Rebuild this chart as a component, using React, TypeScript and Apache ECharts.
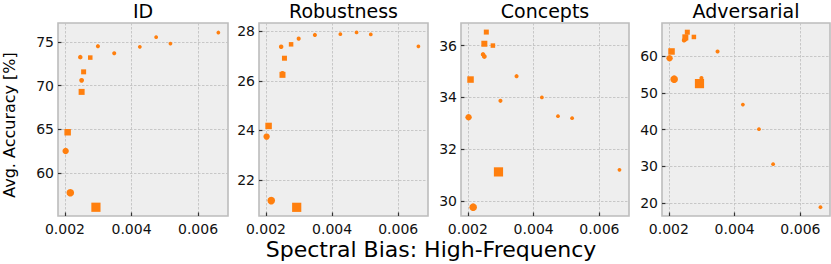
import { useEffect, useRef } from 'react';
import * as echarts from 'echarts';

const panelTitles = ['ID', 'Robustness', 'Concepts', 'Adversarial'];
const spectralBias = [0.00661, 0.00474, 0.00517, 0.00425, 0.00348, 0.00299, 0.00276, 0.00246, 0.00256, 0.0025, 0.0025, 0.00208, 0.00202, 0.00216, 0.00293];
const markerShapes = ['circle', 'circle', 'circle', 'circle', 'circle', 'circle', 'rect', 'circle', 'rect', 'circle', 'rect', 'rect', 'circle', 'circle', 'rect'];
const markerSizes = [3.8, 3.8, 3.8, 3.8, 4.1, 4.1, 4.5, 4.5, 5, 4.8, 6, 6.5, 6.4, 7.6, 9.2];
const idAccuracy = [76.06, 75.53, 74.8, 74.43, 73.7, 74.5, 73.2, 73.25, 71.57, 70.6, 69.28, 64.67, 62.53, 57.76, 56.1];
const robustnessAccuracy = [27.39, 27.95, 27.87, 27.88, 27.85, 27.7, 27.47, 27.37, 26.91, 26.3, 26.24, 24.18, 23.75, 21.17, 20.9];
const conceptsAccuracy = [31.21, 33.28, 33.2, 34.0, 34.82, 33.87, 36.0, 35.66, 36.52, 35.58, 36.07, 34.69, 33.24, 29.77, 31.13];
const adversarialAccuracy = [18.85, 40.1, 30.57, 46.8, 61.25, 54.0, 65.2, 64.3, 66.5, 64.6, 65.1, 61.25, 59.4, 53.7, 52.5];
const xTicks = [0.002, 0.004, 0.006];
const yTicksId = [60, 65, 70, 75];
const yTicksRobustness = [22, 24, 26, 28];
const yTicksConcepts = [30, 32, 34, 36];
const yTicksAdversarial = [20, 30, 40, 50, 60];
const xRange = [0.00179, 0.0069];
const yRangeId = [55.1, 77.15];
const yRangeRobustness = [20.55, 28.33];
const yRangeConcepts = [29.43, 36.87];
const yRangeAdversarial = [16.46, 69.0];
const yAxisTitle = 'Avg. Accuracy [%]';
const xAxisTitle = 'Spectral Bias: High-Frequency';

const FONT = 'DejaVu Sans';
const ORANGE = '#ff7f0e';

export default function App() {
  const ref = useRef<HTMLDivElement>(null);
  useEffect(() => {
    if (!ref.current) return;
    const chart = echarts.init(ref.current, null, { renderer: 'svg' });
    const panelValues = [idAccuracy, robustnessAccuracy, conceptsAccuracy, adversarialAccuracy];
    const panelTicks = [yTicksId, yTicksRobustness, yTicksConcepts, yTicksAdversarial];
    const panelRanges = [yRangeId, yRangeRobustness, yRangeConcepts, yRangeAdversarial];
    const gridBoxes = [
      { left: 58, width: 170 },
      { left: 259, width: 169 },
      { left: 461, width: 168 },
      { left: 662, width: 168 },
    ];
    const top = 23;
    const height = 193;

    const grid = gridBoxes.map((g) => ({
      left: g.left,
      width: g.width,
      top,
      height,
      show: true,
      backgroundColor: '#eeeeee',
      borderColor: '#bcbcbc',
      borderWidth: 1.6,
      containLabel: false,
    }));

    const splitLine = { show: true, lineStyle: { color: '#c2c2c2', width: 0.9, type: [2.5, 1.5] } };
    const axisTick = (vals: number[]) => ({
      show: true,
      inside: true,
      length: 3.5,
      lineStyle: { color: '#333', width: 1.2 },
      customValues: vals,
    });

    const xAxis = gridBoxes.map((_, i) => ({
      type: 'value',
      gridIndex: i,
      min: xRange[0],
      max: xRange[1],
      axisLine: { show: false },
      axisTick: axisTick(xTicks),
      splitLine,
      axisLabel: {
        customValues: xTicks,
        formatter: (v: number) => v.toFixed(3),
        fontFamily: FONT,
        fontSize: 14,
        color: '#111',
        margin: 6,
      },
    }));

    const yAxis = gridBoxes.map((_, i) => ({
      type: 'value',
      gridIndex: i,
      min: panelRanges[i][0],
      max: panelRanges[i][1],
      axisLine: { show: false },
      axisTick: axisTick(panelTicks[i]),
      splitLine,
      axisLabel: {
        customValues: panelTicks[i],
        formatter: (v: number) => String(Math.round(v)),
        fontFamily: FONT,
        fontSize: 14,
        color: '#111',
        margin: 4,
      },
    }));

    const series = panelValues.map((vals, i) => ({
      type: 'scatter',
      xAxisIndex: i,
      yAxisIndex: i,
      itemStyle: { color: ORANGE, opacity: 1 },
      emphasis: { disabled: true },
      data: vals.map((v, k) => ({
        value: [spectralBias[k], v],
        symbol: markerShapes[k],
        symbolSize: markerSizes[k],
      })),
    }));

    const graphic: any[] = panelTitles.map((t, i) => ({
      type: 'text',
      x: gridBoxes[i].left + gridBoxes[i].width / 2,
      y: 11,
      style: {
        text: t,
        fontFamily: FONT,
        fontSize: 19,
        fill: '#000',
        align: 'center',
        verticalAlign: 'middle',
      },
    }));
    graphic.push({
      type: 'text',
      x: 9,
      y: 125,
      rotation: Math.PI / 2,
      style: {
        text: yAxisTitle,
        fontFamily: FONT,
        fontSize: 16,
        fill: '#000',
        align: 'center',
        verticalAlign: 'middle',
      },
    });
    graphic.push({
      type: 'text',
      x: 431,
      y: 249,
      style: {
        text: xAxisTitle,
        fontFamily: FONT,
        fontSize: 22,
        fill: '#000',
        align: 'center',
        verticalAlign: 'middle',
      },
    });

    chart.setOption({
      animation: false,
      backgroundColor: '#ffffff',
      grid,
      xAxis,
      yAxis,
      series,
      graphic,
    } as any);
    return () => chart.dispose();
  }, []);
  return (
    <div
      ref={ref}
      style={{ position: 'absolute', left: 0, top: 0, width: 831, height: 264 }}
    />
  );
}
